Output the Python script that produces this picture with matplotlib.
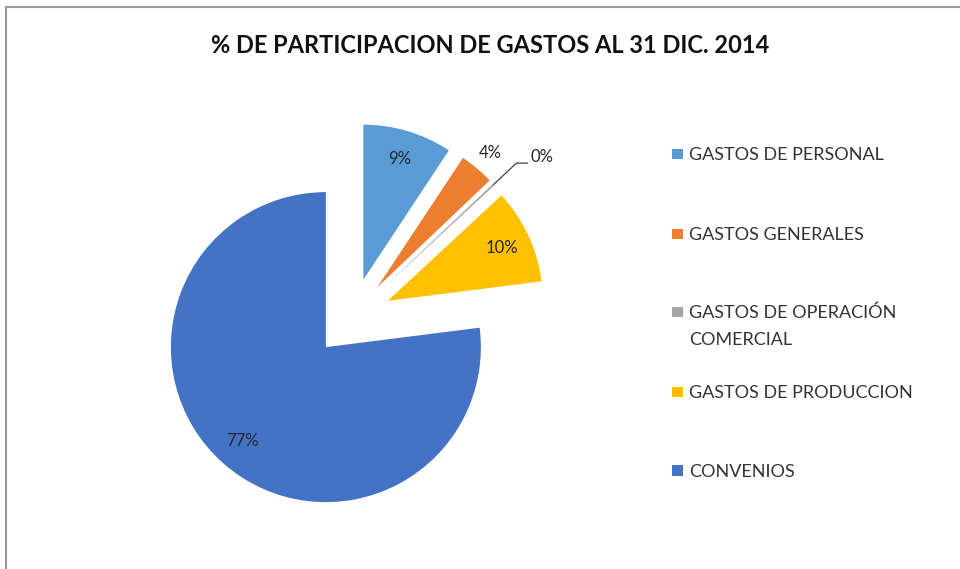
import numpy as np
import matplotlib.pyplot as plt

# datos del grafico
categorias = ["GASTOS DE PERSONAL", "GASTOS GENERALES", "GASTOS DE OPERACIÓN\nCOMERCIAL",
              "GASTOS DE PRODUCCION", "CONVENIOS"]
porcentajes = [9.3, 3.6, 0.2, 9.9, 77.0]
colores = ["#5B9BD5", "#ED7D31", "#A5A5A5", "#FFC000", "#4472C4"]
titulo = "% DE PARTICIPACION DE GASTOS AL 31 DIC. 2014"

W, H = 960, 569
plt.rcParams['font.family'] = ['Lato', 'DejaVu Sans']

fig = plt.figure(figsize=(W / 100, H / 100), dpi=100)
ax = fig.add_axes([0, 0, 1, 1])

def py(y):
    # pixel y (desde arriba) -> coordenada de datos
    return H - y

R = 155
centro = (352, py(317.5))
wedges, textos, pcts = ax.pie(porcentajes, colors=colores, startangle=90, counterclock=False,
                              explode=[39.5] * len(porcentajes), radius=R, center=centro,
                              autopct='%1.0f%%', pctdistance=0.81, labels=None,
                              wedgeprops=dict(linewidth=0),
                              textprops=dict(fontsize=12, color='#262626'))

def punto(w, k):
    ang = np.deg2rad((w.theta1 + w.theta2) / 2)
    return w.center[0] + k * w.r * np.cos(ang), w.center[1] + k * w.r * np.sin(ang)

# etiqueta de 4% fuera del sector
pcts[1].set_position(punto(wedges[1], 1.13))

# etiqueta de 0% con linea guia
x0, y0 = punto(wedges[2], 1.0)
x1, y1 = punto(wedges[2], 1.2)
ax.plot([x0, x1, x1 + 11], [y0, y1, y1], color='#404040', lw=0.9)
pcts[2].set_position((x1 + 14, y1 + 6))
pcts[2].set_ha('left')

ax.set_xlim(0, W)
ax.set_ylim(0, H)
ax.set_aspect('equal')
ax.axis('off')

ax.text(490, py(45), titulo, ha='center', va='center', fontsize=17, fontweight='bold', color='#111111')

# leyenda (linea base de la primera linea de cada entrada)
leyenda_y = [160, 240, 318, 398, 476.7]
for cat, col, yb in zip(categorias, colores, leyenda_y):
    ax.add_patch(plt.Rectangle((672, py(yb - 1)), 10.5, 10.5, color=col, lw=0))
    for i, linea in enumerate(cat.split("\n")):
        ax.text(689, py(yb + i * 26.7), linea, ha='left', va='baseline', fontsize=13, color='#333333')

# borde del area del grafico
ax.plot([5.5, 5.5, W + 5], [py(H + 5), py(7), py(7)], color='#9a9a9a', lw=1.5, clip_on=False)

fig.savefig("out.png", dpi=100)
